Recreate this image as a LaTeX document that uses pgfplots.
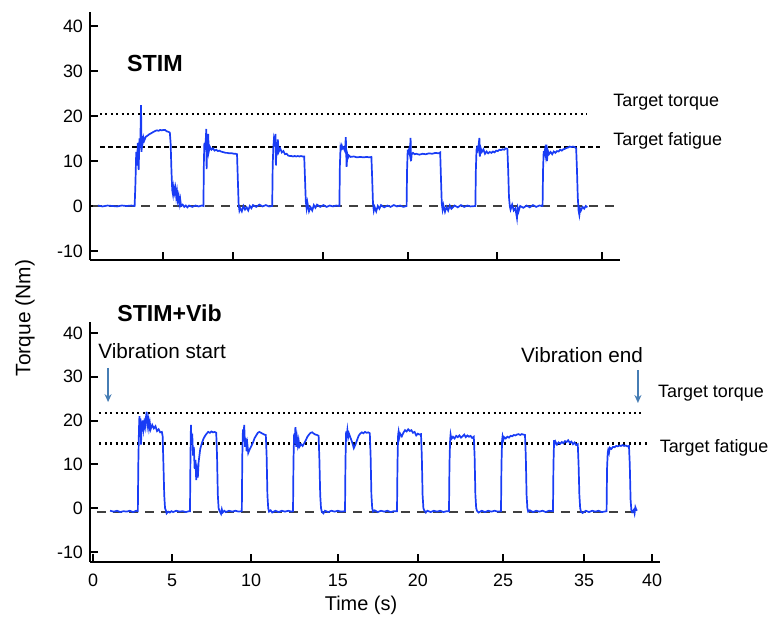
\documentclass[border=0pt]{standalone}
\usepackage{fontspec}
\setmainfont{Liberation Sans}
\usepackage{pgfplots}
\pgfplotsset{compat=1.18}
\usetikzlibrary{arrows.meta}
\definecolor{trace}{RGB}{25,60,245}
\definecolor{arrowblue}{RGB}{70,125,180}
\newcommand\fs[1]{\fontsize{#1}{#1}\selectfont}

\tikzset{lbl/.style={inner sep=0pt}}
\pgfplotsset{
  panel/.style={
    scale only axis,
    clip=false,
    axis x line*=bottom,
    axis y line*=left,
    axis line style={line width=1.2bp, black},
    tick align=inside,
    major tick length=4bp,
    tick style={line width=1bp, black},
    ytick={-10,0,10,20,30,40},
    tick label style={font=\fs{9}},
    /pgf/number format/assume math mode=true,
  },
  torque/.style={trace, line width=0.85bp},
  zero/.style={gray!50!black, line width=0.9bp, dash pattern=on 4.5bp off 3.5bp},
  tdot/.style={black, line width=1.2bp, dash pattern=on 1bp off 1.7bp},
  tdash/.style={black, line width=0.9bp, dash pattern=on 2.5bp off 1.5bp},
}

\begin{document}
\begin{tikzpicture}
\path[use as bounding box] (0,0) rectangle (386bp,310bp);

% ---------- STIM ----------
\begin{axis}[panel,
  at={(45bp,180bp)}, anchor=south west,
  width=265bp, height=124bp,
  xmin=-0.19, xmax=32.94, ymin=-12, ymax=43.1,
  xtick={4.38,8.75,14.38,19.69,25.25,31.81}, xticklabels={},
]
\addplot[zero] coordinates {(0,0) (32.6,0)};
\addplot[tdot] coordinates {(0.44,20.4) (30.9,20.4)};
\addplot[tdash] coordinates {(0.44,13.1) (31.7,13.1)};
\addplot[torque] coordinates {
(0.3,0.1)(0.6,-0.1)(0.9,0.1)(1.2,0)(1.5,-0.1)(1.8,0.1)(2.1,0)(2.4,0.1)(2.6,0)
(2.65,5)(2.7,12)(2.75,9)(2.8,14)(2.85,8)(2.9,15)(2.95,13)(3.0,22.4)(3.03,12)(3.06,15.5)
(3.1,14)(3.15,15.2)(3.2,14.5)(3.3,15.4)(3.4,15.6)(3.5,15.9)(3.6,16.1)(3.7,16.3)(3.8,16.5)
(3.9,16.7)(4.0,16.8)(4.1,16.7)(4.2,16.9)(4.3,16.8)(4.4,16.9)(4.5,16.9)(4.6,16.6)(4.7,16.5)
(4.8,16.3)(4.85,14)(4.9,8)(4.95,3.5)(5.0,2.5)(5.05,4.2)(5.1,3)(5.15,4)(5.2,2)(5.25,3.2)
(5.3,1.2)(5.35,2.2)(5.4,0.5)(5.45,1.5)(5.5,0)(5.6,0.3)(5.7,-0.2)(5.8,0.1)(5.9,-0.3)(6.0,0.1)
(6.2,-0.2)(6.4,0.1)(6.6,-0.1)(6.8,0.1)(6.9,0)
(6.93,10)(6.96,14)(7.0,12.5)(7.05,15)(7.08,17.1)(7.1,8.2)(7.13,14)(7.16,12.5)(7.2,16)
(7.23,12)(7.3,13.2)(7.4,12.5)(7.5,12.8)(7.6,12.3)(7.7,12.5)(7.8,12.2)(7.9,12.3)(8.0,12.1)
(8.1,12)(8.2,11.9)(8.3,11.8)(8.4,11.8)(8.5,11.7)(8.6,11.7)(8.7,11.7)(8.8,11.6)(8.9,11.6)
(9.0,11.5)(9.05,6)(9.1,0.5)(9.15,-1)(9.2,-0.5)(9.3,-1.2)(9.4,0)(9.5,-0.8)(9.6,-0.3)(9.7,-1)
(9.8,0)(9.9,-0.5)(10.0,0.2)(10.2,-0.2)(10.4,0.3)(10.6,-0.1)(10.8,0.2)(11.0,-0.1)(11.2,0)
(11.23,9)(11.27,13)(11.3,14.5)(11.35,13.2)(11.4,16)(11.43,9)(11.47,13)(11.5,12.5)
(11.55,14.8)(11.6,12)(11.7,12.8)(11.8,11.9)(11.9,12.2)(12.0,11.5)(12.1,11.6)(12.2,11.2)
(12.3,11.1)(12.4,11.1)(12.5,11)(12.6,11.1)(12.7,11)(12.8,11.1)(12.9,11.0)(13.0,11.1)
(13.1,11)(13.2,11)(13.25,6)(13.3,1)(13.35,-0.5)(13.4,0.8)(13.5,-1.2)(13.6,-0.3)(13.7,-1)
(13.8,0.2)(13.9,-0.4)(14.0,0.3)(14.2,-0.2)(14.4,0.2)(14.6,-0.2)(14.8,0.1)(15.0,-0.1)
(15.2,0.1)(15.4,0)
(15.43,9)(15.47,13)(15.5,12.6)(15.55,13.4)(15.6,12.8)(15.65,13)(15.75,12.2)(15.8,15.3)
(15.85,8.7)(15.9,11.5)(15.95,10.8)(16.0,11.2)(16.1,10.9)(16.3,11)(16.5,10.8)(16.7,10.9)
(16.9,10.8)(17.1,10.9)(17.3,10.8)(17.4,10.9)(17.45,6)(17.5,0.5)(17.55,-1)(17.6,-0.2)
(17.7,-1.2)(17.8,0)(17.9,-0.6)(18.0,0.2)(18.2,-0.3)(18.4,0.1)(18.6,-0.2)(18.8,0.2)
(19.0,-0.1)(19.2,0.1)(19.4,-0.2)(19.6,0)
(19.63,8)(19.67,12.5)(19.7,11.8)(19.75,12.5)(19.8,11.5)(19.85,15.1)(19.88,10)(19.92,11.5)
(20.0,11.8)(20.1,11.5)(20.2,11.6)(20.4,11.4)(20.6,11.6)(20.8,11.5)(21.0,11.7)(21.2,11.6)
(21.4,11.8)(21.6,11.7)(21.7,11.9)(21.75,6)(21.8,0.5)(21.85,-0.8)(21.9,0.2)(22.0,-1.3)
(22.1,-0.2)(22.2,-1)(22.3,0.1)(22.4,-0.6)(22.6,0.1)(22.8,-0.3)(23.0,0.2)(23.2,-0.2)
(23.4,0.1)(23.6,-0.1)(23.9,0)
(23.93,8)(23.97,12.5)(24.0,12.9)(24.05,12.4)(24.1,13.5)(24.15,15.1)(24.18,11)(24.22,13)
(24.3,12)(24.4,12.6)(24.5,11.6)(24.6,12.1)(24.7,11.7)(24.8,12)(24.9,11.8)(25.0,12.1)
(25.1,11.9)(25.2,12.3)(25.3,12.2)(25.4,12.5)(25.5,12.4)(25.6,12.6)(25.7,12.5)(25.8,12.8)
(25.9,12.7)(25.95,8)(26.0,2)(26.05,0)(26.1,-0.8)(26.2,0.3)(26.3,-1)(26.4,-0.5)(26.5,-2.7)
(26.55,-0.5)(26.6,-1.2)(26.7,0)(26.9,-0.4)(27.1,0.1)(27.3,-0.3)(27.5,0.2)(27.7,-0.2)
(27.9,0.1)(28.1,0)
(28.13,8)(28.17,12.2)(28.2,11.5)(28.25,12.5)(28.3,11.2)(28.35,13.6)(28.38,10)(28.42,12.4)
(28.5,11.5)(28.6,12)(28.7,11.5)(28.8,12.1)(28.9,11.8)(29.0,12.2)(29.1,12.1)(29.2,12.5)
(29.3,12.3)(29.4,12.6)(29.5,12.7)(29.6,12.9)(29.7,13)(29.8,13.2)(29.9,13.1)(30.0,13.2)
(30.1,13.1)(30.2,12.8)(30.25,8)(30.3,2)(30.35,-1)(30.4,-2)(30.45,-0.6)(30.5,-1)(30.6,-0.2)
(30.7,-0.6)(30.8,0)(30.9,-0.3)
};
\node[lbl, font=\bfseries\fs{11.7}, anchor=west] at (axis cs:2.1,31.6) {STIM};
\node[lbl, font=\fs{9}, anchor=west] at (axis cs:32.5,23.1) {Target torque};
\node[lbl, font=\fs{9}, anchor=west] at (axis cs:32.5,14.4) {Target fatigue};
\end{axis}

% ---------- STIM+Vib ----------
\begin{axis}[panel,
  at={(45bp,29bp)}, anchor=south west,
  width=285bp, height=120bp,
  xmin=-0.19, xmax=35.44, ymin=-12.3, ymax=42.5,
  xtick={0,4.94,9.88,15.31,20.31,25.63,30.69,34.94},
  xticklabels={0,5,10,15,20,25,35,40},
  xticklabel style={yshift=-2.5bp},
]
\addplot[zero] coordinates {(0.25,-0.9) (34,-0.9)};
\addplot[tdot] coordinates {(0.4,21.7) (34.4,21.7)};
\addplot[tdot] coordinates {(0.4,14.8) (34.6,14.8)};
\addplot[torque] coordinates {
(1.06,-0.6)(1.3,-0.8)(1.5,-0.6)(1.7,-0.9)(1.9,-0.7)(2.1,-0.8)(2.3,-0.6)(2.5,-0.9)(2.7,-0.6)(2.8,-0.7)
(2.83,10)(2.87,18)(2.9,21)(2.93,17)(2.96,20.5)(3.0,14.5)(3.03,19)(3.07,17.5)(3.1,20)
(3.15,18)(3.2,19.5)(3.25,18.5)(3.3,20.5)(3.35,22)(3.4,19)(3.45,20.2)(3.5,18.3)(3.55,19.5)
(3.6,18)(3.7,19)(3.8,18.2)(3.9,18.7)(4.0,17.6)(4.1,18)(4.2,17.3)(4.3,17.4)(4.35,16.5)
(4.4,10)(4.45,3)(4.5,0)(4.55,-0.5)(4.6,-1.2)(4.7,-0.8)(4.8,-1)(4.9,-0.7)(5.0,-0.9)
(5.2,-0.6)(5.4,-0.8)(5.6,-0.7)(5.8,-0.9)(6.0,-0.7)(6.06,-0.7)
(6.09,12)(6.12,19)(6.15,15)(6.2,17)(6.25,12)(6.3,14)(6.35,9)(6.4,11)(6.45,6.4)(6.5,8.5)
(6.55,7)(6.6,10.5)(6.65,12)(6.7,13.5)(6.8,14.8)(6.9,15.8)(7.0,16.5)(7.1,17)(7.2,17.4)
(7.3,17.2)(7.4,17.5)(7.5,17.3)(7.6,17.4)(7.7,17.2)(7.75,12)(7.8,3)(7.85,0)(7.9,-0.6)
(8.0,-1.3)(8.05,-0.3)(8.1,-1)(8.2,-0.6)(8.3,-0.9)(8.5,-0.6)(8.7,-0.8)(8.9,-0.6)(9.1,-0.8)(9.3,-0.7)
(9.33,12)(9.37,18)(9.4,16)(9.45,19)(9.5,14)(9.55,16)(9.6,13)(9.65,14.5)(9.7,12.6)(9.8,13.5)
(9.9,14.2)(10.0,15)(10.1,16)(10.2,16.6)(10.3,17.2)(10.4,17.4)(10.5,17.2)(10.6,17)(10.7,16.8)
(10.8,16.7)(10.85,12)(10.9,3)(10.95,0)(11.0,-0.8)(11.1,-0.5)(11.2,-1)(11.4,-0.6)(11.6,-0.9)
(11.8,-0.6)(12.0,-0.8)(12.2,-0.6)(12.4,-0.8)(12.5,-0.7)
(12.53,11)(12.57,17)(12.6,15)(12.65,18.5)(12.7,14)(12.75,16)(12.8,14.4)(12.85,15.5)(12.9,14)
(13.0,14.6)(13.1,14.2)(13.2,14.8)(13.3,15.5)(13.4,16.3)(13.5,16.8)(13.6,17.2)(13.7,17.3)
(13.8,17)(13.9,16.8)(14.0,16.7)(14.1,16.5)(14.15,11)(14.2,3)(14.25,0)(14.3,-0.8)(14.4,-1.2)
(14.5,-0.6)(14.7,-0.9)(14.9,-0.6)(15.1,-0.8)(15.3,-0.6)(15.5,-0.8)(15.75,-0.7)
(15.78,11)(15.82,17.5)(15.85,16)(15.9,17.8)(15.95,16.2)(16.0,17)(16.1,16)(16.2,15)
(16.3,13.7)(16.4,14.5)(16.5,15.5)(16.6,16.5)(16.7,17)(16.8,17.3)(16.9,17.1)(17.0,17.4)
(17.1,17.2)(17.2,17.3)(17.3,17.1)(17.35,12)(17.4,3)(17.45,0)(17.5,-0.8)(17.6,-0.5)
(17.8,-0.9)(18.0,-0.6)(18.2,-0.8)(18.4,-0.6)(18.6,-0.9)(18.8,-0.7)(19.0,-0.7)
(19.03,10)(19.07,16.8)(19.1,17.5)(19.15,16.2)(19.2,17)(19.3,16.4)(19.4,17.2)(19.5,17.8)
(19.6,17.5)(19.7,18)(19.8,17.6)(19.9,17.8)(20.0,17.2)(20.1,17.4)(20.2,16.6)(20.3,17)
(20.4,16.8)(20.5,16.9)(20.55,12)(20.6,3)(20.65,0)(20.7,-0.5)(20.8,-1)(20.9,-0.6)
(21.1,-0.9)(21.3,-0.6)(21.5,-0.8)(21.7,-0.6)(21.9,-0.9)(22.1,-0.7)(22.25,-0.7)
(22.28,10)(22.32,15.5)(22.35,16.8)(22.4,15.8)(22.5,16.3)(22.6,15.9)(22.7,16.5)(22.8,16.2)
(22.9,16.6)(23.0,16.1)(23.1,16.4)(23.2,16.8)(23.3,16.2)(23.4,16.6)(23.5,16.3)(23.6,16.5)
(23.7,16)(23.8,16.3)(23.85,12)(23.9,3)(23.95,0)(24.0,-0.6)(24.1,-1)(24.3,-0.6)(24.5,-0.9)
(24.7,-0.6)(24.9,-0.8)(25.1,-0.6)(25.3,-0.8)(25.5,-0.7)
(25.53,10)(25.57,15.5)(25.6,16.4)(25.65,15.6)(25.7,16.2)(25.8,15.9)(25.9,16.3)(26.0,16.1)
(26.1,16.5)(26.2,16.4)(26.3,16.7)(26.4,16.6)(26.5,16.8)(26.6,16.9)(26.7,16.7)(26.8,16.9)
(26.9,16.8)(27.0,16.7)(27.05,12)(27.1,3)(27.15,0)(27.2,-0.8)(27.3,-0.5)(27.5,-0.9)
(27.7,-0.6)(27.9,-0.8)(28.1,-0.6)(28.3,-0.9)(28.5,-0.6)(28.75,-0.7)
(28.78,10)(28.82,15.5)(28.85,14.6)(28.9,15.2)(29.0,14.5)(29.1,15)(29.2,14.7)(29.3,15.1)
(29.4,14.8)(29.5,15.3)(29.6,15.1)(29.7,15.5)(29.8,14.9)(29.9,15.2)(30.0,14.6)(30.1,15)
(30.2,14.4)(30.3,14.6)(30.35,10)(30.4,3)(30.45,0)(30.5,-0.8)(30.6,-1.1)(30.8,-0.6)
(31.0,-0.9)(31.2,-0.6)(31.4,-0.8)(31.6,-0.6)(31.8,-0.9)(32.1,-0.7)
(32.13,9)(32.17,12.5)(32.2,13.2)(32.25,12.6)(32.3,13.8)(32.4,13.5)(32.5,14)(32.6,13.9)
(32.7,14.2)(32.8,14.1)(32.9,14.3)(33.0,14.2)(33.1,14.4)(33.2,14.2)(33.3,14.3)(33.4,14.1)
(33.5,14.2)(33.55,10)(33.6,2)(33.65,-0.5)(33.7,-0.9)(33.8,-0.4)(33.85,-1.2)(33.9,0.2)
(33.95,-0.3)(34.0,-0.6)
};
\node[lbl, font=\bfseries\fs{11.6}, anchor=west] at (axis cs:1.5,44.6) {STIM+Vib};
\node[lbl, font=\fs{10.4}, anchor=west] at (axis cs:0.31,35.9) {Vibration start};
\node[lbl, font=\fs{10.4}, anchor=east] at (axis cs:34.4,35.0) {Vibration end};
\draw[arrowblue, line width=1bp, -{Stealth[length=4bp,width=3.5bp]}]
  (axis cs:0.94,32) -- (axis cs:0.94,24.2);
\draw[arrowblue, line width=1bp, -{Stealth[length=4bp,width=3.5bp]}]
  (axis cs:34.06,31.5) -- (axis cs:34.06,24);
\node[lbl, font=\fs{9}, anchor=west] at (axis cs:35.3,26.3) {Target torque};
\node[lbl, font=\fs{9}, anchor=west] at (axis cs:35.4,13.7) {Target fatigue};
\end{axis}

\node[font=\fs{10.5}, rotate=90] at (12.5bp,151bp) {Torque (Nm)};
\node[font=\fs{10}] at (180.5bp,7.5bp) {Time (s)};
\end{tikzpicture}
\end{document}
